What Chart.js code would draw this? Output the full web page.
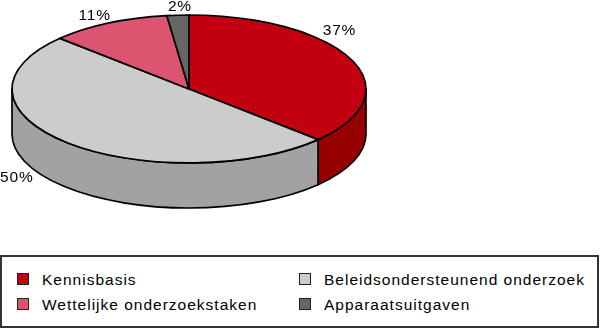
<!DOCTYPE html>
<html>
<head>
<meta charset="utf-8">
<script src="https://cdn.jsdelivr.net/npm/chart.js@4/dist/chart.umd.min.js"></script>
<style>
  html, body { margin: 0; padding: 0; background: #fff; }
  #wrap { position: relative; width: 600px; height: 328px; overflow: hidden; }
  #pie { position: absolute; left: 0; top: 0; }
  #legend {
    position: absolute; left: 0; top: 255px; width: 599px; height: 73px;
    box-sizing: border-box; border: 2px solid #333; background: #fff;
  }
  .item { position: absolute; font: 15.5px "Liberation Sans", Arial, sans-serif; letter-spacing: 1px; color: #000; white-space: nowrap; line-height: 16px; }
  .sw { position: absolute; width: 10px; height: 10px; border: 1.5px solid #222; }
</style>
</head>
<body>
<div id="wrap">
  <canvas id="pie" width="600" height="255"></canvas>
  <div id="legend"></div>
</div>
<script>
// data
const categories = ['Kennisbasis', 'Beleidsondersteunend onderzoek', 'Wettelijke onderzoekstaken', 'Apparaatsuitgaven'];
const shares = [37, 50, 11, 2];

// styling
const topColors = ['#C20010', '#CCCCCC', '#DB5570', '#666666'];
const sideColors = ['#960000', '#A2A2A2', '#A83A50', '#444444'];
const TILT = 0.418;
// label nudges relative to the slice anchor (x, y)
const labelNudgeX = [-12, -51, -14, 2];
const labelNudgeY = [-29, -10, -7, -8];

const pie3d = {
  id: 'pie3d',
  beforeDatasetsDraw(chart) {
    const ctx = chart.ctx, a = chart.chartArea;
    const arcs = chart.getDatasetMeta(0).data;
    const cx = (a.left + a.right) / 2, rx = (a.right - a.left) / 2, ry = rx * TILT;
    const cy = a.top + ry, depth = a.bottom - a.top - 2 * ry;
    ctx.save();
    ctx.lineWidth = 1.7;
    ctx.strokeStyle = '#000';
    ctx.lineJoin = 'round';

    // visible side walls (front half, param angle 0..PI)
    arcs.forEach((arc, i) => {
      [-2 * Math.PI, 0, 2 * Math.PI].forEach(k => {
        const a0 = Math.max(arc.startAngle + k, 0), a1 = Math.min(arc.endAngle + k, Math.PI);
        if (a1 <= a0) return;
        ctx.beginPath();
        ctx.ellipse(cx, cy, rx, ry, 0, a0, a1);
        ctx.lineTo(cx + rx * Math.cos(a1), cy + depth + ry * Math.sin(a1));
        ctx.ellipse(cx, cy + depth, rx, ry, 0, a1, a0, true);
        ctx.closePath();
        ctx.fillStyle = sideColors[i];
        ctx.fill();
        ctx.stroke();
      });
    });

    // top face
    arcs.forEach((arc, i) => {
      ctx.beginPath();
      ctx.moveTo(cx, cy);
      ctx.ellipse(cx, cy, rx, ry, 0, arc.startAngle, arc.endAngle);
      ctx.closePath();
      ctx.fillStyle = topColors[i];
      ctx.fill();
      ctx.stroke();
    });

    // percentage labels
    const total = shares.reduce((s, v) => s + v, 0);
    ctx.font = '15.5px "Liberation Sans", Arial, sans-serif';
    ctx.letterSpacing = '0.8px';
    ctx.fillStyle = '#000';
    ctx.textAlign = 'center';
    ctx.textBaseline = 'middle';
    arcs.forEach((arc, i) => {
      const m = (arc.startAngle + arc.endAngle) / 2;
      let x = cx + rx * Math.cos(m), y = cy + ry * Math.sin(m);
      if (Math.sin(m) > 0) y += depth;
      const txt = Math.round(shares[i] / total * 100) + '%';
      ctx.fillText(txt, x + labelNudgeX[i], y + labelNudgeY[i]);
    });
    ctx.restore();
    return false;
  }
};

new Chart(document.getElementById('pie'), {
  type: 'pie',
  data: {
    labels: categories,
    datasets: [{ data: shares, backgroundColor: topColors }]
  },
  options: {
    responsive: false,
    animation: false,
    events: [],
    layout: { padding: { left: 12, right: 234, top: 15, bottom: 47 } },
    plugins: { legend: { display: false }, tooltip: { enabled: false } }
  },
  plugins: [pie3d]
});

// legend, two columns, row-major
const legend = document.getElementById('legend');
categories.forEach((name, i) => {
  const col = i % 2, row = Math.floor(i / 2);
  const sw = document.createElement('div');
  sw.className = 'sw';
  sw.style.background = topColors[i];
  sw.style.left = (15 + col * 282) + 'px';
  sw.style.top = (16 + row * 25) + 'px';
  legend.appendChild(sw);
  const t = document.createElement('div');
  t.className = 'item';
  t.textContent = name;
  t.style.left = (40 + col * 282) + 'px';
  t.style.top = (15 + row * 25) + 'px';
  legend.appendChild(t);
});
</script>
</body>
</html>
